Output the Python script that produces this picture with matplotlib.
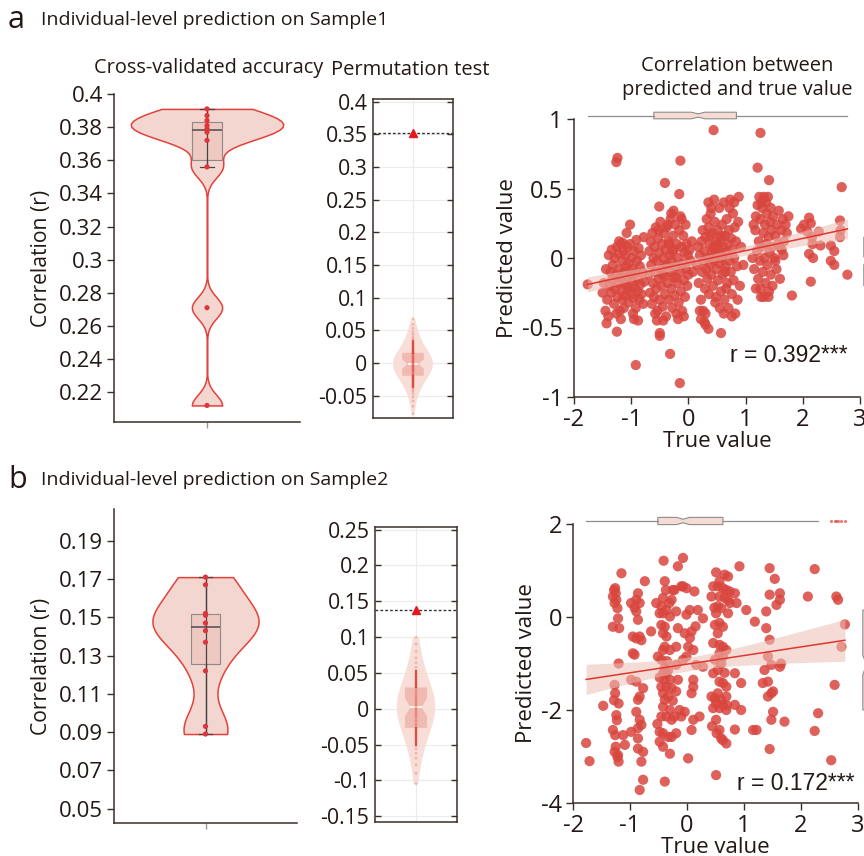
import numpy as np
import matplotlib
matplotlib.use('Agg')
import matplotlib.pyplot as plt
from matplotlib.ticker import FuncFormatter

plt.rcParams['font.family'] = ['Open Sans', 'DejaVu Sans']
plt.rcParams['axes.unicode_minus'] = False

# ---------------- data ----------------
cv_a = [0.212, 0.271, 0.356, 0.372, 0.377, 0.379, 0.381, 0.384, 0.387, 0.391]
cv_b = [0.089, 0.093, 0.122, 0.137, 0.143, 0.147, 0.151, 0.152, 0.167, 0.171]
cv_ticks_a = [0.22, 0.24, 0.26, 0.28, 0.30, 0.32, 0.34, 0.36, 0.38, 0.40]
cv_ticks_b = [0.05, 0.07, 0.09, 0.11, 0.13, 0.15, 0.17, 0.19]

obs_a = 0.352
obs_b = 0.138
null_a = [-0.078, -0.066, -0.058, -0.052, -0.047, -0.043, -0.040, -0.037, -0.034, -0.032,
          -0.030, -0.028, -0.026, -0.024, -0.023, -0.021, -0.020, -0.018, -0.017, -0.016,
          -0.014, -0.013, -0.012, -0.011, -0.010, -0.009, -0.008, -0.007, -0.006, -0.005,
          -0.004, -0.003, -0.002, -0.001, 0.000, 0.001, 0.002, 0.003, 0.004, 0.005,
          0.006, 0.007, 0.008, 0.009, 0.010, 0.011, 0.012, 0.014, 0.015, 0.016,
          0.018, 0.019, 0.021, 0.023, 0.025, 0.027, 0.029, 0.031, 0.034, 0.037,
          0.040, 0.044, 0.048, 0.053, 0.059, 0.068]
null_b = [-0.105, -0.090, -0.078, -0.069, -0.062, -0.056, -0.051, -0.046, -0.042, -0.038,
          -0.035, -0.032, -0.029, -0.026, -0.023, -0.021, -0.018, -0.016, -0.013, -0.011,
          -0.009, -0.007, -0.005, -0.003, -0.001, 0.001, 0.003, 0.005, 0.007, 0.009,
          0.011, 0.013, 0.015, 0.017, 0.019, 0.021, 0.024, 0.026, 0.029, 0.032,
          0.035, 0.038, 0.041, 0.045, 0.049, 0.053, 0.058, 0.064, 0.071, 0.080,
          0.090, 0.100]
perm_ticks_a = [-0.05, 0, 0.05, 0.1, 0.15, 0.2, 0.25, 0.3, 0.35, 0.4]
perm_ticks_b = [-0.15, -0.1, -0.05, 0, 0.05, 0.1, 0.15, 0.2, 0.25]

# Sample1 scatter (true value, predicted value)
a_isolated = [(0.44, 0.92), (1.26, 0.90), (-1.24, 0.72), (-1.26, 0.69), (-0.14, 0.70), (1.21, 0.65),
              (1.41, 0.56), (-0.41, 0.54), (2.68, 0.51), (-0.16, 0.46), (-0.51, 0.37), (-1.02, 0.24),
              (-1.08, 0.18), (-1.76, -0.19), (1.81, -0.27), (-0.92, -0.77), (-0.32, -0.69), (-0.15, -0.90),
              (-0.50, -0.56), (-0.50, -0.54), (0.57, -0.54), (-1.25, -0.53), (-1.43, -0.47), (-0.95, -0.44),
              (0.35, -0.51), (0.30, -0.48), (-0.55, -0.45)]
a_left = [(-1.45, -0.38), (-1.42, -0.30), (-1.40, -0.42), (-1.38, -0.20), (-1.36, -0.10), (-1.35, -0.25),
          (-1.33, -0.15), (-1.32, -0.05), (-1.30, -0.33), (-1.29, 0.00), (-1.28, -0.22), (-1.27, -0.12),
          (-1.25, 0.08), (-1.24, -0.28), (-1.23, -0.18), (-1.22, 0.03), (-1.21, -0.08), (-1.20, -0.38),
          (-1.19, -0.14), (-1.18, 0.10), (-1.17, -0.24), (-1.16, -0.02), (-1.15, -0.30), (-1.14, 0.05),
          (-1.13, -0.18), (-1.12, -0.10), (-1.11, -0.27), (-1.10, 0.02), (-1.09, -0.06), (-1.08, -0.20),
          (-1.07, 0.08), (-1.06, -0.14), (-1.05, -0.32), (-1.04, -0.04), (-1.03, -0.22), (-1.02, 0.10),
          (-1.01, -0.12), (-1.00, -0.26), (-0.99, 0.00), (-0.98, -0.17), (-0.97, -0.08), (-0.96, -0.29),
          (-0.95, 0.05), (-0.94, -0.21), (-0.93, -0.11), (-0.92, -0.36), (-0.91, 0.13), (-0.90, -0.02),
          (-0.89, -0.24), (-0.88, -0.15), (-0.87, 0.07), (-0.86, -0.30), (-0.85, -0.06), (-0.84, -0.19),
          (-0.83, 0.02), (-0.82, -0.26), (-0.80, -0.10), (-0.79, -0.33), (-0.78, 0.15), (-0.77, -0.17),
          (-1.48, -0.18), (-1.50, -0.25), (-1.44, -0.08), (-1.39, 0.02), (-1.34, 0.06), (-1.26, -0.40),
          (-1.18, -0.44), (-1.13, -0.36), (-0.97, -0.40), (-0.88, -0.45), (-1.21, 0.12), (-1.15, 0.11)]
a_mid = [(-0.70, -0.12), (-0.68, 0.05), (-0.67, -0.25), (-0.66, 0.12), (-0.65, -0.05), (-0.64, -0.33),
         (-0.63, 0.18), (-0.62, -0.18), (-0.61, 0.00), (-0.60, -0.28), (-0.59, 0.08), (-0.58, -0.10),
         (-0.57, 0.22), (-0.56, -0.22), (-0.55, -0.02), (-0.54, -0.38), (-0.53, 0.14), (-0.52, -0.15),
         (-0.51, 0.04), (-0.50, -0.30), (-0.49, 0.26), (-0.48, -0.08), (-0.47, -0.20), (-0.46, 0.10),
         (-0.45, -0.35), (-0.44, 0.00), (-0.43, 0.18), (-0.42, -0.13), (-0.41, -0.26), (-0.40, 0.06),
         (-0.39, -0.42), (-0.38, 0.22), (-0.37, -0.05), (-0.36, -0.18), (-0.35, 0.12), (-0.34, -0.30),
         (-0.33, 0.02), (-0.32, -0.10), (-0.31, 0.28), (-0.30, -0.22), (-0.29, -0.02), (-0.28, -0.36),
         (-0.27, 0.16), (-0.26, -0.14), (-0.25, 0.06), (-0.24, -0.27), (-0.23, 0.24), (-0.22, -0.06),
         (-0.21, -0.40), (-0.20, 0.10), (-0.19, -0.18), (-0.18, 0.00), (-0.17, -0.32), (-0.16, 0.20),
         (-0.15, -0.10), (-0.14, 0.30), (-0.13, -0.24), (-0.12, 0.08), (-0.11, -0.38), (-0.10, -0.04),
         (-0.09, 0.16), (-0.08, -0.16), (-0.07, 0.04), (-0.06, -0.28), (-0.05, 0.24), (-0.04, -0.08),
         (-0.03, 0.10), (-0.02, -0.20), (-0.01, 0.02), (0.00, -0.12), (0.02, 0.06), (0.04, -0.02),
         (-0.58, -0.40), (-0.44, -0.45), (-0.30, 0.32), (-0.12, 0.28), (-0.18, -0.44), (-0.08, -0.42),
         (-0.52, 0.20), (-0.36, 0.24), (-0.26, 0.34), (-0.46, -0.12), (-0.40, -0.05), (-0.22, -0.14),
         (-0.34, 0.10), (-0.28, 0.05), (0.08, -0.10), (0.06, 0.12)]
a_pos = [(0.15, -0.05), (0.17, 0.08), (0.18, -0.18), (0.20, 0.02), (0.22, -0.30), (0.23, 0.12),
         (0.24, -0.10), (0.25, 0.20), (0.26, -0.38), (0.27, -0.02), (0.28, 0.05), (0.29, -0.22),
         (0.30, 0.15), (0.31, -0.08), (0.32, 0.28), (0.33, -0.15), (0.34, 0.00), (0.35, 0.22),
         (0.36, -0.26), (0.37, 0.10), (0.38, -0.05), (0.39, 0.32), (0.40, -0.12), (0.41, 0.04),
         (0.42, 0.18), (0.43, -0.20), (0.44, 0.08), (0.45, -0.02), (0.46, 0.26), (0.47, -0.32),
         (0.48, 0.12), (0.49, -0.08), (0.50, 0.02), (0.51, 0.20), (0.52, -0.16), (0.53, 0.06),
         (0.54, 0.36), (0.55, -0.04), (0.56, 0.14), (0.57, -0.24), (0.58, 0.00), (0.59, 0.24),
         (0.60, -0.12), (0.61, 0.08), (0.62, 0.40), (0.63, -0.30), (0.64, 0.16), (0.65, -0.06),
         (0.66, 0.04), (0.67, 0.28), (0.68, -0.18), (0.69, 0.10), (0.70, -0.36), (0.71, 0.20),
         (0.72, -0.02), (0.73, 0.42), (0.74, -0.10), (0.75, 0.14), (0.76, -0.26), (0.77, 0.06),
         (0.78, 0.32), (0.79, -0.16), (0.80, 0.00), (0.81, 0.22), (0.82, -0.40), (0.83, 0.12),
         (0.85, -0.06), (0.87, 0.26), (0.88, 0.44), (0.90, -0.20), (0.92, 0.08), (0.40, 0.36),
         (0.45, 0.42), (0.35, 0.40), (0.48, -0.28), (0.55, -0.36), (0.62, -0.40), (0.30, -0.40),
         (0.66, -0.22), (0.72, 0.36), (0.80, 0.40), (0.86, -0.30), (0.76, -0.42), (0.42, 0.00),
         (0.52, 0.10), (0.60, 0.02), (0.46, 0.06), (0.58, 0.16), (0.64, -0.10), (0.38, 0.16),
         (0.96, -0.05), (0.28, -0.46), (0.22, -0.44), (0.20, -0.38)]
a_high = [(1.15, -0.08), (1.17, 0.20), (1.18, -0.22), (1.20, 0.05), (1.21, 0.38), (1.22, -0.15),
          (1.23, 0.12), (1.24, 0.44), (1.25, -0.02), (1.26, 0.28), (1.27, -0.28), (1.28, 0.08),
          (1.29, 0.36), (1.30, -0.10), (1.31, 0.18), (1.32, 0.44), (1.33, 0.00), (1.34, 0.24),
          (1.35, -0.18), (1.36, 0.10), (1.37, 0.32), (1.38, -0.05), (1.39, 0.44), (1.40, 0.15),
          (1.41, -0.24), (1.42, 0.04), (1.43, 0.26), (1.44, -0.12), (1.45, 0.20), (1.46, 0.08),
          (1.47, -0.20), (1.48, 0.30), (1.50, 0.00), (1.52, 0.16), (1.54, -0.08), (1.55, 0.24),
          (1.57, 0.10), (1.58, 0.34), (1.60, -0.15), (1.62, 0.20), (1.63, 0.06), (1.65, 0.28),
          (1.67, 0.12), (1.70, 0.24), (1.72, 0.18), (1.75, 0.30), (1.26, -0.22), (1.32, -0.28),
          (1.40, -0.28), (1.18, 0.30), (1.28, 0.40), (1.36, 0.40), (1.44, 0.36), (1.52, -0.02),
          (1.60, 0.08), (1.66, 0.02), (1.12, 0.00), (1.14, 0.24)]
a_top = [(2.11, 0.29), (2.14, 0.25), (2.08, 0.19), (2.28, 0.19), (2.16, 0.15), (2.17, 0.10),
         (2.31, 0.09), (2.11, 0.03), (2.18, 0.00), (2.14, -0.17), (2.65, 0.27), (2.66, 0.20),
         (2.65, 0.15), (2.49, 0.09), (2.55, 0.05), (2.49, -0.02), (2.55, -0.05), (2.78, -0.12),
         (1.97, 0.21), (2.02, 0.24)]

# Sample2 scatter (true value, predicted value)
b_c1 = [(-1.28, 0.58), (-1.25, 0.51), (-1.30, 0.44), (-1.24, 0.37), (-1.27, 0.30), (-1.22, 0.19),
        (-1.21, -0.03), (-1.19, -0.24), (-1.20, -1.00), (-1.27, -1.46), (-1.26, -1.64), (-1.28, -1.79),
        (-1.20, -1.86), (-1.24, -2.11), (-1.23, -2.22), (-1.30, -2.43), (-1.26, -2.54), (-1.25, -2.79),
        (-1.27, -2.90), (-1.22, -3.01), (-1.20, -3.11), (-1.15, 0.94), (-1.12, -2.54), (-1.21, -2.97),
        (-1.47, -1.91), (-1.77, -2.71), (-1.71, -3.10), (-1.30, -0.21), (-1.26, 0.62)]
b_c2 = [(-0.86, 0.51), (-0.89, 0.37), (-0.83, 0.30), (-0.98, 0.30), (-0.89, 0.12), (-0.86, -0.06),
        (-0.95, -0.42), (-0.89, -0.46), (-0.83, -0.42), (-0.92, -0.81), (-0.95, -0.78), (-0.98, -1.35),
        (-0.89, -1.39), (-0.77, -1.53), (-0.83, -1.71), (-0.86, -1.78), (-0.89, -2.04), (-0.83, -2.21),
        (-0.80, -2.32), (-0.86, -2.39), (-0.86, -2.61), (-0.86, -2.83), (-0.77, -2.90), (-0.80, -3.11),
        (-0.77, -3.50), (-0.83, -3.72), (-0.74, 0.77), (-0.98, -2.47), (-1.09, -2.75), (-0.63, -0.31),
        (-0.80, -0.50), (-0.92, 0.20)]
b_c3 = [(-0.41, 1.21), (-0.39, 0.77), (-0.37, 0.58), (-0.42, 0.41), (-0.45, 0.23), (-0.48, 0.08),
        (-0.42, 0.08), (-0.36, 0.15), (-0.30, 0.01), (-0.27, 0.37), (-0.25, 0.58), (-0.45, -0.17),
        (-0.39, -0.21), (-0.42, -0.35), (-0.36, -0.42), (-0.39, -0.64), (-0.42, -0.71), (-0.30, -0.71),
        (-0.45, -0.92), (-0.39, -1.10), (-0.33, -1.14), (-0.42, -1.21), (-0.36, -1.21), (-0.39, -1.35),
        (-0.30, -1.35), (-0.45, -1.50), (-0.36, -1.50), (-0.27, -1.53), (-0.42, -1.64), (-0.33, -1.71),
        (-0.39, -1.78), (-0.42, -1.93), (-0.30, -2.00), (-0.45, -2.14), (-0.36, -2.14), (-0.27, -2.21),
        (-0.48, -2.47), (-0.42, -2.50), (-0.33, -2.58), (-0.27, -2.58), (-0.48, -2.68), (-0.42, -2.79),
        (-0.30, -2.94), (-0.39, -3.54), (-0.16, 1.09), (-0.07, 1.27), (-0.10, 0.66), (-0.22, 0.58),
        (-0.19, 0.12), (-0.16, -0.24), (-0.19, -0.64), (-0.19, -1.03), (-0.16, -1.35), (-0.19, -1.60),
        (-0.13, -2.00), (-0.22, -2.14), (-0.19, -2.50), (-0.54, 0.30), (-0.51, -0.85), (-0.48, -1.30),
        (-0.52, -2.30), (-0.35, -0.95), (-0.25, -1.80), (-0.31, 0.30)]
b_c4 = [(-0.07, 0.66), (-0.01, 0.62), (0.13, 0.55), (0.05, 0.15), (0.19, 0.15), (0.28, -0.03),
        (-0.01, 0.05), (-0.04, -0.35), (0.08, -0.31), (-0.01, -0.85), (-0.07, -0.92), (0.11, -0.71),
        (0.02, -0.64), (0.16, -1.03), (0.28, -1.07), (0.11, -1.35), (0.11, -1.50), (0.08, -1.64),
        (-0.04, -2.04), (-0.10, -2.14), (0.11, -2.21), (0.08, -2.43), (0.02, -3.04), (0.22, -2.14),
        (0.05, -0.45), (0.15, -0.20)]
b_c5 = [(0.51, 0.96), (0.57, 0.77), (0.66, 0.91), (0.72, 0.87), (0.46, 0.66), (0.54, 0.66),
        (0.63, 0.62), (0.69, 0.58), (0.75, 0.55), (0.43, 0.44), (0.57, 0.44), (0.66, 0.41),
        (0.72, 0.37), (0.54, 0.23), (0.60, 0.19), (0.51, 0.08), (0.72, 0.08), (0.57, -0.13),
        (0.49, -0.17), (0.63, -0.21), (0.54, -0.35), (0.46, -0.56), (0.57, -0.60), (0.63, -0.64),
        (0.69, -0.71), (0.57, -0.78), (0.49, -0.92), (0.63, -0.85), (0.54, -1.14), (0.46, -1.21),
        (0.57, -1.39), (0.63, -1.42), (0.69, -1.50), (0.43, -1.71), (0.49, -1.75), (0.54, -1.64),
        (0.60, -1.78), (0.69, -1.71), (0.51, -1.86), (0.63, -1.89), (0.57, -1.96), (0.46, -1.96),
        (0.69, -2.00), (0.51, -2.21), (0.57, -2.43), (0.60, -2.61), (0.63, -2.65), (0.69, -2.72),
        (0.51, -3.40), (0.52, -2.50), (0.66, -1.20), (0.48, 0.20), (0.60, -1.00), (0.70, -1.90),
        (0.44, -2.35)]
b_c6 = [(0.92, 1.09), (0.84, 0.51), (0.75, 0.30), (0.87, 0.30), (1.04, 0.15), (0.84, -1.21),
        (0.95, -1.42), (0.84, -1.89), (0.95, -2.00), (0.84, -2.42), (1.19, -0.10), (1.16, -2.43),
        (1.22, -2.43)]
b_c7 = [(1.45, 1.05), (1.54, 0.82), (1.45, 0.48), (1.63, 0.51), (1.39, 0.12), (1.57, 0.26),
        (1.39, -0.24), (1.45, -0.49), (1.42, -0.85), (1.48, -1.03), (1.36, -1.14), (1.42, -1.39),
        (1.33, -1.42), (1.51, -1.60), (1.48, -1.64), (1.42, -1.71), (1.51, -2.04), (1.48, -2.21),
        (1.45, -2.84), (1.63, 0.37), (1.65, -1.00), (1.63, -1.07)]
b_c8 = [(1.71, -2.25), (2.12, 0.44), (2.24, 1.03), (2.30, -2.07), (2.24, -2.45), (2.62, 0.44),
        (2.65, 0.37), (2.77, -0.16), (2.71, -0.64), (2.59, -1.46), (2.53, -3.08)]

r_label_a = 'r = 0.392***'
r_label_b = 'r = 0.172***'
sc_xticks = [-2, -1, 0, 1, 2, 3]
sc_yticks_a = [-1, -0.5, 0, 0.5, 1]
sc_yticks_b = [-4, -2, 0, 2]

# ---------------- style ----------------
TXT = '#231815'
SPINE = '#3b2d29'
RED = '#d9463e'
VFACE = (0.95, 0.84, 0.81, 1.0)
VEDGE = '#e5413b'
W, H = 864, 856

fig = plt.figure(figsize=(W / 100, H / 100), dpi=100)


def box_px(l, t, r, b):
    return [l / W, 1 - b / H, (r - l) / W, (b - t) / H]


gfmt = FuncFormatter(lambda v, p: '{:g}'.format(round(v, 4)))


def style_plain(ax, fs):
    for s in ['top', 'right']:
        ax.spines[s].set_visible(False)
    for s in ['left', 'bottom']:
        ax.spines[s].set_color(SPINE)
        ax.spines[s].set_linewidth(1.1)
    ax.tick_params(colors=SPINE, labelcolor=TXT, labelsize=fs, length=5, width=1, pad=3)


def cv_violin(ax, data, ticks, ylim, width, bw):
    d = np.asarray(data)
    vp = ax.violinplot([d], positions=[0.5], widths=width, showextrema=False,
                       bw_method=bw / np.std(d, ddof=1))
    for b in vp['bodies']:
        b.set_alpha(None)
        b.set_facecolor(VFACE)
        b.set_edgecolor(VEDGE)
        b.set_linewidth(1.1)
    bp = ax.boxplot([d], positions=[0.5], widths=0.16, patch_artist=True, showfliers=False,
                    boxprops=dict(facecolor=(0.90, 0.70, 0.66, 0.35), edgecolor='#8f8a88', linewidth=0.8),
                    medianprops=dict(color='#5a5555', linewidth=1.2),
                    whiskerprops=dict(color='#4a4242', linewidth=0.9),
                    capprops=dict(color='#4a4242', linewidth=0.9), capwidths=0.075)
    lo = bp['whiskers'][0].get_ydata()[1]
    hi = bp['whiskers'][1].get_ydata()[1]
    ax.plot([0.5, 0.5], [lo, hi], color='#4a4242', lw=0.9, zorder=3)
    ax.scatter([0.5] * len(d), d, s=14, color='#e0343a', zorder=5, edgecolors='none')
    ax.set_xlim(0, 1)
    ax.set_ylim(*ylim)
    ax.set_yticks(ticks)
    ax.yaxis.set_major_formatter(gfmt)
    ax.set_xticks([0.5])
    ax.set_xticklabels([''])
    style_plain(ax, 16)
    ax.tick_params(axis='x', length=4, color='#999999')
    ax.set_ylabel('Correlation (r)', fontsize=15.2, color=TXT, labelpad=5)


def perm_panel(ax, null, obs, ticks, ylim, width):
    d = np.asarray(null)
    ax.grid(True, color='#ececec', lw=0.8)
    ax.set_axisbelow(True)
    vp = ax.violinplot([d], positions=[0.5], widths=width, showextrema=False)
    for b in vp['bodies']:
        b.set_alpha(None)
        b.set_facecolor((0.97, 0.85, 0.82, 0.85))
        b.set_edgecolor('none')
    ax.scatter([0.5] * len(d), d, s=4, color='#e03a35', alpha=0.25, edgecolors='none', zorder=3)
    ax.boxplot([d], positions=[0.5], widths=0.27, notch=True, patch_artist=True,
               showfliers=False, showcaps=False, whis=(10, 90),
               boxprops=dict(facecolor=(0.93, 0.62, 0.57, 0.55), edgecolor='none'),
               medianprops=dict(color='white', linewidth=1.2),
               whiskerprops=dict(color='#e0544c', linewidth=1.6))
    ax.axhline(obs, color='#333333', lw=1.0, ls=(0, (2, 1.5)), zorder=5)
    ax.plot([0.5], [obs], marker='^', color='#e5171f', ms=6, zorder=6)
    ax.set_xlim(0, 1)
    ax.set_ylim(*ylim)
    ax.set_yticks(ticks)
    ax.yaxis.set_major_formatter(gfmt)
    ax.set_xticks([0.5])
    ax.set_xticklabels([''])
    for s in ax.spines.values():
        s.set_color(SPINE)
        s.set_linewidth(1.1)
    ax.tick_params(axis='y', direction='in', left=True, right=True, length=4, width=1,
                   colors=SPINE, labelcolor=TXT, labelsize=15.3, pad=4)
    ax.tick_params(axis='x', length=0)


def scatter_panel(ax, pts, xticks, yticks, ylim, rlabel, rxy, top_rect, right_rect):
    x = np.array([p[0] for p in pts])
    y = np.array([p[1] for p in pts])
    ax.scatter(x, y, s=54, color=RED, alpha=0.85, edgecolors='none', zorder=3)
    k, c = np.polyfit(x, y, 1)
    xs = np.linspace(x.min(), x.max(), 100)
    n = len(x)
    resid = y - (k * x + c)
    s = np.sqrt(np.sum(resid ** 2) / (n - 2))
    se = s * np.sqrt(1 / n + (xs - x.mean()) ** 2 / np.sum((x - x.mean()) ** 2))
    ax.fill_between(xs, k * xs + c - 1.96 * se, k * xs + c + 1.96 * se,
                    color=(0.93, 0.75, 0.71), alpha=0.55, lw=0, zorder=4)
    ax.plot(xs, k * xs + c, color='#e2352f', lw=1.1, zorder=5)
    ax.set_xlim(-2, 3)
    ax.set_ylim(*ylim)
    ax.set_xticks(xticks)
    ax.set_yticks(yticks)
    ax.xaxis.set_major_formatter(gfmt)
    ax.yaxis.set_major_formatter(gfmt)
    style_plain(ax, 17)
    ax.set_xlabel('True value', fontsize=16, color=TXT, labelpad=-1)
    ax.set_ylabel('Predicted value', fontsize=16, color=TXT, labelpad=3)
    ax.text(rxy[0], rxy[1], rlabel, transform=ax.transAxes, ha='right', va='center',
            fontsize=16.5, color=TXT, family=['Liberation Sans', 'DejaVu Sans'], zorder=6)
    # marginal box of true values (top)
    axt = fig.add_axes(top_rect, sharex=ax)
    axt.boxplot([x], orientation='horizontal', positions=[0.5], widths=0.6, notch=True,
                patch_artist=True,
                boxprops=dict(facecolor=(0.96, 0.86, 0.83), edgecolor='#8d8d8d', linewidth=0.8),
                medianprops=dict(color='#8d8d8d', linewidth=0),
                whiskerprops=dict(color='#8d8d8d', linewidth=0.9),
                showcaps=False,
                flierprops=dict(marker='o', markersize=2.2, markerfacecolor='#e8544c',
                                markeredgecolor='none', alpha=0.8))
    axt.set_ylim(0, 1)
    axt.axis('off')
    # marginal box of predicted values (right, clipped by the figure edge)
    axr = fig.add_axes(right_rect, sharey=ax)
    axr.boxplot([y], positions=[0.5], widths=0.6, notch=True, patch_artist=True,
                boxprops=dict(facecolor=(0.96, 0.86, 0.83), edgecolor='#8d8d8d', linewidth=0.8),
                medianprops=dict(linewidth=0), whiskerprops=dict(color='#8d8d8d', linewidth=0.9),
                showcaps=False, showfliers=False)
    axr.set_xlim(0, 1)
    axr.axis('off')


pts_a = a_isolated + a_left + a_mid + a_pos + a_high + a_top
pts_b = b_c1 + b_c2 + b_c3 + b_c4 + b_c5 + b_c6 + b_c7 + b_c8

# ----- panel a -----
ax1 = fig.add_axes(box_px(114, 94, 300, 422))
cv_violin(ax1, cv_a, cv_ticks_a, (0.202, 0.4), 0.82, 0.0065)
ax2 = fig.add_axes(box_px(373, 99, 453, 418))
perm_panel(ax2, null_a, obs_a, perm_ticks_a, (-0.084, 0.404), 0.5)
ax3 = fig.add_axes(box_px(574, 119, 860, 397))
scatter_panel(ax3, pts_a, sc_xticks, sc_yticks_a, (-1, 1), r_label_a, (0.958, 0.151),
              box_px(574, 110, 860, 121), box_px(859, 119, 883, 397))

# ----- panel b -----
ax4 = fig.add_axes(box_px(114, 509, 297, 823))
cv_violin(ax4, cv_b, cv_ticks_b, (0.0425, 0.2066), 0.58, 0.011)
ax5 = fig.add_axes(box_px(375, 527, 457, 822))
perm_panel(ax5, null_b, obs_b, perm_ticks_b, (-0.158, 0.2536), 0.47)
ax6 = fig.add_axes(box_px(573, 524, 858, 803))
scatter_panel(ax6, pts_b, sc_xticks, sc_yticks_b, (-4, 2), r_label_b, (0.989, 0.071),
              box_px(573, 515, 858, 527), box_px(858, 524, 882, 803))

# ----- texts -----
fig.text(8 / W, 1 - 20 / H, 'a', fontsize=22, color=TXT, va='center')
fig.text(41 / W, 1 - 20 / H, 'Individual-level prediction on Sample1', fontsize=14, color=TXT, va='center')
fig.text(8 / W, 1 - 480 / H, 'b', fontsize=22, color=TXT, va='center')
fig.text(41 / W, 1 - 480 / H, 'Individual-level prediction on Sample2', fontsize=14, color=TXT, va='center')
fig.text(209 / W, 1 - 68 / H, 'Cross-validated accuracy', fontsize=14.3, color=TXT, ha='center', va='center')
fig.text(410 / W, 1 - 70 / H, 'Permutation test', fontsize=14.5, color=TXT, ha='center', va='center')
fig.text(737 / W, 1 - 78 / H, 'Correlation between\npredicted and true value', fontsize=14.5,
         color=TXT, ha='center', va='center', linespacing=1.3)

fig.savefig('out.png', dpi=100)
